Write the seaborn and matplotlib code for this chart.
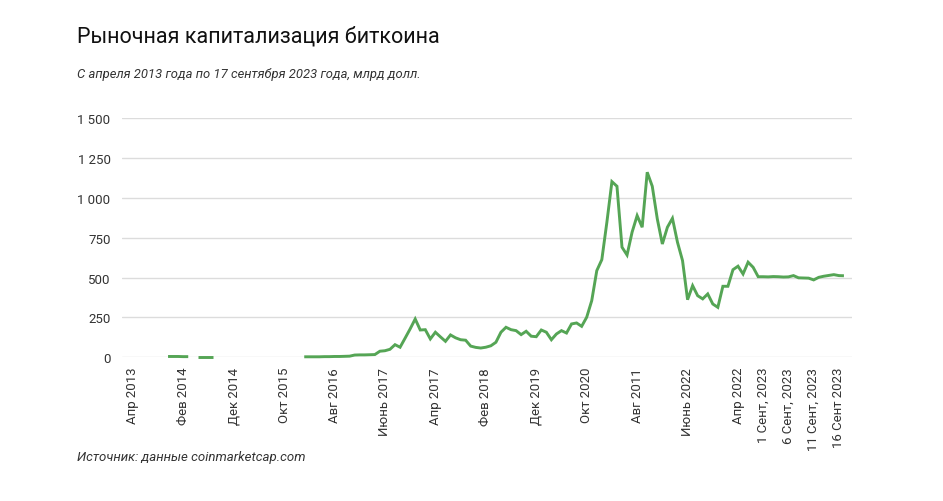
import numpy as np
import pandas as pd
import matplotlib
matplotlib.use("Agg")
import matplotlib.pyplot as plt
import seaborn as sns

# Рыночная капитализация биткоина, млрд долл. (None = нет данных)
cap = [
    None, None, None, None, None, None, None, 5, 5, 5,
    4, 4, None, 4, 4, 4, 4, None, None, None,
    None, None, None, None, None, None, None, None, None, None,
    None, None, None, None, 3, 3, 3, 3, 4, 4,
    5, 5, 6, 7, 14, 15, 15, 16, 17, 38,
    41, 50, 79, 63, 120, 178, 240, 171, 173, 115,
    157, 128, 100, 140, 122, 110, 107, 70, 62, 58,
    63, 72, 94, 157, 188, 173, 167, 142, 163, 132,
    129, 171, 157, 110, 146, 167, 152, 209, 215, 194,
    251, 355, 543, 612, 846, 1101, 1072, 690, 641, 784,
    888, 815, 1160, 1072, 867, 710, 815, 871, 721, 606,
    361, 449, 386, 366, 397, 334, 313, 445, 445, 549,
    571, 522, 596, 564, 505, 505, 504, 506, 505, 503,
    504, 512, 498, 497, 496, 485, 501, 508, 513, 518,
    512, 511,
]

tick_labels = ["Апр 2013", "Фев 2014", "Дек 2014", "Окт 2015", "Авг 2016",
               "Июнь 2017", "Апр 2017", "Фев 2018", "Дек 2019", "Окт 2020",
               "Авг 2011", "Июнь 2022", "Апр 2022", "1 Сент, 2023",
               "6 Сент, 2023", "11 Сент, 2023", "16 Сент 2023"]
tick_idx = list(range(0, 121, 10)) + [125, 130, 135, 140]

y_ticks = [0, 250, 500, 750, 1000, 1250, 1500]

df = pd.DataFrame({"idx": np.arange(len(cap)), "cap": pd.to_numeric(pd.Series(cap), errors="coerce")})
# номер непрерывного участка, чтобы пропуски остались разрывами
df["seg"] = df["cap"].isna().cumsum()
df = df.dropna()

sns.set_style("white")
plt.rcParams["font.family"] = ["Roboto", "DejaVu Sans"]

fig = plt.figure(figsize=(9.43, 5.02), dpi=100)
ax = fig.add_axes([0.129, 0.2863, 0.7745, 0.4767])

sns.lineplot(data=df, x="idx", y="cap", units="seg", estimator=None,
             color="#55a555", linewidth=2.1, ax=ax)
for ln in ax.lines:
    ln.set_clip_on(False)
    ln.set_solid_capstyle("butt")
    ln.set_solid_joinstyle("miter")

ax.set_xlim(-2.2, 142.6)
ax.set_ylim(0, 1500)
ax.set_yticks(y_ticks)
ax.set_yticklabels([f"{v:,}".replace(",", " ") for v in y_ticks])
ax.set_xticks(tick_idx)
ax.set_xticklabels(tick_labels, rotation=90)
ax.tick_params(axis="both", length=0, labelsize=9.5, labelcolor="#333333")
ax.tick_params(axis="y", pad=8)
ax.tick_params(axis="x", pad=7)
ax.yaxis.grid(True, color="#dcdcdc", linewidth=1.0)
ax.set_axisbelow(True)
sns.despine(ax=ax, left=True, bottom=True)
ax.set_xlabel("")
ax.set_ylabel("")

fig.text(0.0817, 0.926, "Рыночная капитализация биткоина", fontsize=15.5,
         color="#111111", va="center")
fig.text(0.0817, 0.851, "С апреля 2013 года по 17 сентября 2023 года, млрд долл.",
         fontsize=9.4, style="italic", color="#333333", va="center")
fig.text(0.0817, 0.088, "Источник: данные coinmarketcap.com", fontsize=9.5,
         style="italic", color="#333333", va="center")

fig.savefig("out.png", dpi=100)
